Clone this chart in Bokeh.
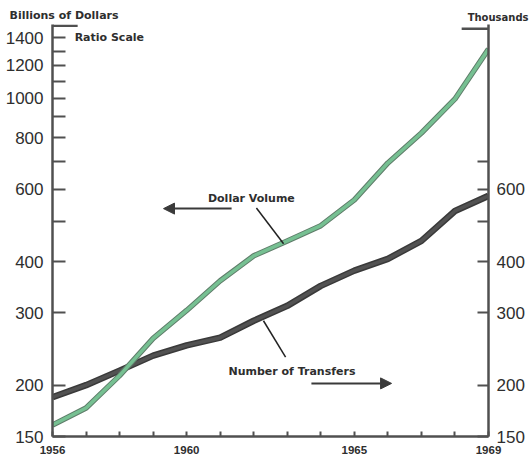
from bokeh.plotting import figure
from bokeh.layouts import column
from bokeh.models import LogAxis, FixedTicker, Label, Arrow, NormalHead
from bokeh.core.properties import value
from bokeh.embed import file_html
from bokeh.resources import INLINE

# ---- data ----
years = list(range(1956, 1970))
dollar_volume = [160, 176, 211, 260, 304, 359, 413, 449, 489, 565, 695, 822, 995, 1316]   # billions of dollars
number_transfers = [187, 200, 217, 236, 250, 261, 287, 312, 349, 380, 406, 449, 531, 578]  # thousands

left_ticks = [150, 200, 300, 400, 500, 600, 700, 800, 900, 1000, 1100, 1200, 1300, 1400]
left_labels = ["150", "200", "300", "400", "", "600", "", "800", "", "1000", "", "1200", "", "1400"]
right_ticks = [150, 200, 300, 400, 500, 600, 700]
right_labels = ["150", "200", "300", "400", "", "600", ""]
x_labels = ["1956", "", "", "", "1960", "", "", "", "", "1965", "", "", "", "1969"]

left_unit = "Billions of Dollars"
right_unit = "Thousands"

AX = "#505050"
TXT = "#2e2e2e"
BOLD = "DejaVu Sans"
NUM = "Liberation Sans"

W = 530
TOP = 24
H = 459

# ---- header strip holding the unit captions ----
head = figure(width=W, height=TOP, x_range=(0, W), y_range=(0, TOP),
              output_backend="svg", toolbar_location=None,
              x_axis_location=None, y_axis_location=None,
              min_border_left=0, min_border_right=0, min_border_top=0, min_border_bottom=0)
head.frame_align = False
head.grid.visible = False
head.outline_line_color = None
head.text(x=[9], y=[TOP - 15], text=[left_unit], text_font=value(BOLD), text_font_style="bold",
          text_font_size="11px", text_color=TXT, text_align="left", text_baseline="middle")
head.text(x=[W - 2], y=[TOP - 17], text=[right_unit], text_font=value(BOLD), text_font_style="bold",
          text_font_size="10px", text_color=TXT, text_align="right", text_baseline="middle")

# ---- main chart ----
y_lo, y_hi = 150, 1510
x_lo, x_hi = years[0], years[-1]

p = figure(width=W, height=H - TOP, x_range=(x_lo, x_hi), y_range=(y_lo, y_hi),
           y_axis_type="log", output_backend="svg", toolbar_location=None,
           min_border_left=52, min_border_right=42, min_border_top=0, min_border_bottom=23)
p.grid.visible = False
p.outline_line_color = None

def style_axis(ax, tick_in):
    ax.axis_line_color = AX
    ax.axis_line_width = 2.5
    ax.major_tick_line_color = AX
    ax.major_tick_line_width = 2
    ax.major_tick_in = tick_in
    ax.major_tick_out = 0
    ax.minor_tick_line_color = None

ya = p.yaxis[0]
ya.ticker = FixedTicker(ticks=left_ticks)
ya.major_label_overrides = {t: l for t, l in zip(left_ticks, left_labels)}
style_axis(ya, 13)
ya.major_label_standoff = 9
ya.major_label_text_font = NUM
ya.major_label_text_font_size = "17px"
ya.major_label_text_color = TXT

ra = LogAxis(ticker=FixedTicker(ticks=right_ticks))
ra.major_label_overrides = {t: l for t, l in zip(right_ticks, right_labels)}
style_axis(ra, 11)
ra.major_label_standoff = 8
ra.major_label_text_font = NUM
ra.major_label_text_font_size = "17px"
ra.major_label_text_color = TXT
p.add_layout(ra, "right")

xa = p.xaxis[0]
xa.ticker = FixedTicker(ticks=years)
xa.major_label_overrides = {t: l for t, l in zip(years, x_labels)}
style_axis(xa, 5)
xa.major_label_standoff = 9
xa.major_label_text_font = "Liberation Sans"
xa.major_label_text_font_style = "bold"
xa.major_label_text_font_size = "11.5px"
xa.major_label_text_color = TXT

# axis caps at the top
p.segment(x0=[x_lo], y0=[1500], x1=[x_lo + 0.75], y1=[1500], line_color=AX, line_width=2.5)
p.segment(x0=[x_hi - 0.8], y0=[1475], x1=[x_hi], y1=[1475], line_color=AX, line_width=2.5)

# series
p.line(years, number_transfers, line_color="#3a3a3a", line_width=6.5, line_join="round")
p.line(years, number_transfers, line_color="#525252", line_width=3.5, line_join="round")
p.line(years, dollar_volume, line_color="#5f7d6a", line_width=5.5, line_join="round")
p.line(years, dollar_volume, line_color="#76c092", line_width=3.5, line_join="round")

def lab(x, y, t, size="11px", align="left"):
    p.add_layout(Label(x=x, y=y, text=t, text_font=BOLD, text_font_style="bold",
                       text_font_size=size, text_color=TXT, text_align=align,
                       text_baseline="middle"))

lab(1956.66, 1400, "Ratio Scale")
lab(1961.93, 569, "Dollar Volume", align="center")
lab(1963.14, 216, "Number of Transfers", align="center")

p.add_layout(Arrow(x_start=1961.34, y_start=538, x_end=1959.31, y_end=538,
                   line_color="#3a3a3a", line_width=2,
                   end=NormalHead(size=11, fill_color="#3a3a3a", line_color="#3a3a3a")))
p.add_layout(Arrow(x_start=1963.72, y_start=202, x_end=1966.11, y_end=202,
                   line_color="#3a3a3a", line_width=2,
                   end=NormalHead(size=11, fill_color="#3a3a3a", line_color="#3a3a3a")))
p.segment(x0=[1962.08], y0=[540], x1=[1962.89], y1=[442], line_color="#222222", line_width=1.5)
p.segment(x0=[1962.29], y0=[287], x1=[1962.95], y1=[234], line_color="#222222", line_width=1.5)

layout = column(head, p, spacing=0)
open("out.html", "w").write(file_html(layout, INLINE))
